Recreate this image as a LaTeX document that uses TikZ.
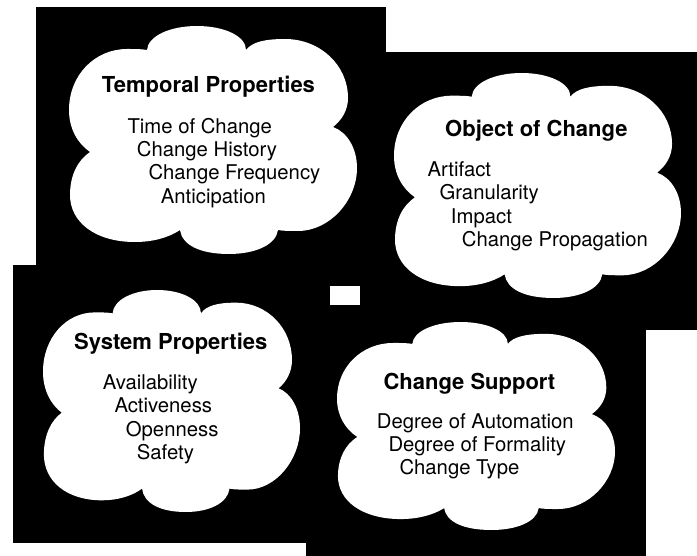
\documentclass[tikz,border=0pt]{standalone}
\usepackage{fontspec}
\setmainfont{TeX Gyre Heros}
\newcommand\cloudoutline{(147,50) .. controls (148,36) and (170,26) .. (197,26) .. controls (224,26) and (246,36) .. (246,50) .. controls (252,42) and (265,39) .. (285,39) .. controls (320,39) and (348,65) .. (348,98) .. controls (348,110) and (342,120) .. (333,127) .. controls (347,132) and (357,148) .. (357,168) .. controls (357,200) and (330,231) .. (298,231) .. controls (290,231) and (283,231) .. (278,230) .. controls (276,245) and (255,254) .. (229,254) .. controls (200,254) and (182,245) .. (180,230) .. controls (168,238) and (152,242) .. (135,242) .. controls (95,242) and (70,222) .. (70,195) .. controls (70,175) and (78,160) .. (90,152) .. controls (77,143) and (69,128) .. (69,110) .. controls (69,75) and (95,49) .. (127,49) .. controls (135,49) and (142,49) .. (147,50) -- cycle}
\tikzset{
  bg/.style={fill=black},
  puff/.style={fill=white},
  ttl/.style={anchor=base west, inner sep=0pt, font=\fontsize{22}{26}\selectfont\bfseries},
  itm/.style={anchor=base west, inner sep=0pt, font=\fontsize{20.3}{24}\selectfont},
}
\begin{document}
\begin{tikzpicture}[x=1pt,y=-1pt]
\fill[white] (0,0) rectangle (697,556);
\useasboundingbox (0,0) rectangle (697,556);
% black panels
\fill[bg] (36,7) rectangle (386,286);
\fill[bg] (360,52) rectangle (697,330);
\fill[bg] (13,265) rectangle (330,543);
\fill[bg] (306,305) rectangle (646,556);
% clouds
\begin{scope}[shift={(69,26)}, xscale=1, yscale=1, shift={(-69,-26)}]
  \fill[puff] \cloudoutline;
\end{scope}
\begin{scope}[shift={(394,73)}, xscale=0.9965, yscale=0.9868, shift={(-69,-26)}]
  \fill[puff] \cloudoutline;
\end{scope}
\begin{scope}[shift={(43,290)}, xscale=0.8924, yscale=0.9737, shift={(-69,-26)}]
  \fill[puff] \cloudoutline;
\end{scope}
\begin{scope}[shift={(337,322)}, xscale=0.9653, yscale=0.9123, shift={(-69,-26)}]
  \fill[puff] \cloudoutline;
\end{scope}
% Temporal Properties
\node[ttl] (tp) at (101.7,92.7) {Temporal Properties};
\node[itm] (tp1) at (127.3,133.3) {Time of Change};
\node[itm] (tp2) at (136.7,156.7) {Change History};
\node[itm] (tp3) at (148.3,180) {Change Frequency};
\node[itm] (tp4) at (160.7,203.3) {Anticipation};
% Object of Change
\node[ttl] (oc) at (445,136.7) {Object of Change};
\node[itm] (oc1) at (427.3,176.7) {Artifact};
\node[itm] (oc2) at (439.3,200) {Granularity};
\node[itm] (oc3) at (450.7,223.3) {Impact};
\node[itm] (oc4) at (461.7,246.7) {Change Propagation};
% System Properties
\node[ttl] (sp) at (74,349.3) {System Properties};
\node[itm] (sp1) at (102.7,390) {Availability};
\node[itm] (sp2) at (114.3,412.7) {Activeness};
\node[itm] (sp3) at (125.7,436) {Openness};
\node[itm] (sp4) at (136.7,460) {Safety};
% Change Support
\node[ttl] (cs) at (383.3,390) {Change Support};
\node[itm] (cs1) at (376.7,428.3) {Degree of Automation};
\node[itm] (cs2) at (388.3,451.7) {Degree of Formality};
\node[itm] (cs3) at (399.3,475) {Change Type};
\end{tikzpicture}
\end{document}
